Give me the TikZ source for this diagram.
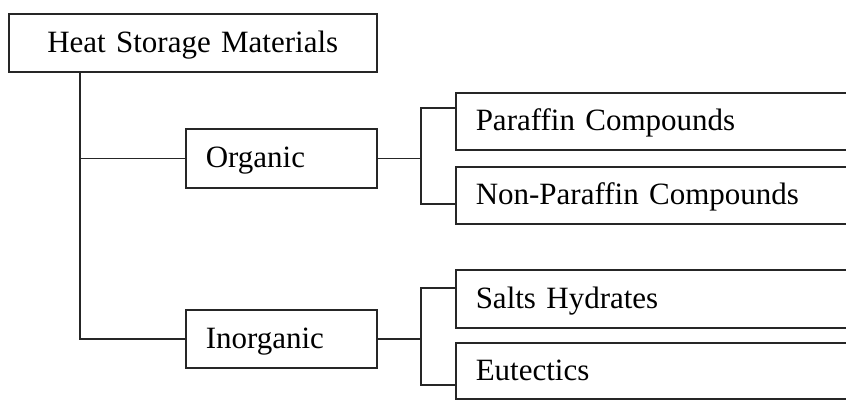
\documentclass[tikz,border=0pt]{standalone}
\usepackage{fontspec}
\setmainfont{Liberation Serif}
\begin{document}
\begin{tikzpicture}[x=1pt,y=-1pt,
  box/.style={draw=black!85, line width=1.5pt, anchor=north west, inner xsep=20pt,
    text height=24pt, text depth=5pt, font=\fontsize{31}{36}\selectfont, align=left},
  conn/.style={draw=black!85, line width=1.5pt}]
\useasboundingbox (0,0) rectangle (846,400);
\clip (0,0) rectangle (846,400);
\node[box, minimum width=368pt, minimum height=58pt, text width=328pt, align=center] (top) at (8,13) {Heat Storage Materials};
\node[box, minimum width=191pt, minimum height=59pt, text width=151pt] (org) at (185,128) {Organic};
\node[box, minimum width=191pt, minimum height=58pt, text width=151pt] (inorg) at (185,309) {Inorganic};
\node[box, minimum width=430pt, minimum height=57pt, text width=390pt] (par) at (455,92) {Paraffin Compounds};
\node[box, minimum width=430pt, minimum height=57pt, text width=390pt] (npar) at (455,166) {Non-Paraffin Compounds};
\node[box, minimum width=430pt, minimum height=58pt, text width=390pt] (salt) at (455,269) {Salts Hydrates};
\node[box, minimum width=430pt, minimum height=56pt, text width=390pt] (eut) at (455,342) {Eutectics};
\coordinate (trunk) at (80,71);
\coordinate (bx) at (421,0);
\draw[conn] (trunk) |- (inorg.west);
\draw[conn] (trunk |- org.west) -- (org.west);
\draw[conn] (org.east) -- (org.east -| bx);
\draw[conn] (par.west |- 0,108) -| (bx |- 0,157) |- (npar.west |- 0,204);
\draw[conn] (inorg.east) -- (inorg.east -| bx);
\draw[conn] (salt.west |- 0,288) -| (bx |- 0,338) |- (eut.west |- 0,385);
\end{tikzpicture}
\end{document}
